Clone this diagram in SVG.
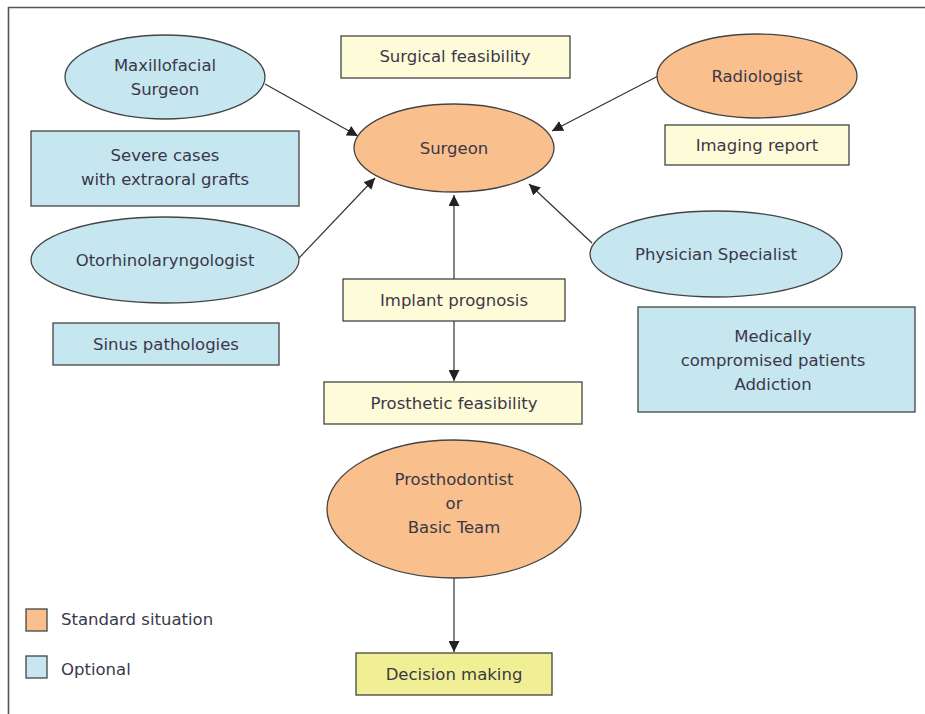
<svg xmlns="http://www.w3.org/2000/svg" width="925" height="714" viewBox="0 0 925 714">
  <defs>
    <marker id="arrow" viewBox="0 0 10 10" refX="10" refY="5" markerWidth="11" markerHeight="11" markerUnits="userSpaceOnUse" orient="auto">
      <path d="M0,0 L10,5 L0,10 z" fill="#222"/>
    </marker>
    <style>
      .std { fill: #F9BF8D; stroke: #444; stroke-width: 1.3; }
      .opt { fill: #C6E6F0; stroke: #444; stroke-width: 1.3; }
      .note { fill: #FDFBD8; stroke: #444; stroke-width: 1.3; }
      .decide { fill: #F1EF93; stroke: #444; stroke-width: 1.3; }
      .lbl { font-family: "DejaVu Sans", "Liberation Sans", sans-serif; font-size: 16.5px; fill: #3a3848; text-anchor: middle; }
      .leg { font-family: "DejaVu Sans", "Liberation Sans", sans-serif; font-size: 16.5px; fill: #3a3848; }
      .edge { stroke: #333; stroke-width: 1.2; fill: none; marker-end: url(#arrow); }
    </style>
  </defs>
  <rect width="925" height="714" fill="#fff"/>
  <!-- frame -->
  <path d="M8.5,714 V7.5 H925" fill="none" stroke="#555" stroke-width="1.6"/>

  <g id="connectors">
    <line class="edge" x1="265" y1="84" x2="358" y2="136"/>
    <line class="edge" x1="660" y1="75" x2="552" y2="131"/>
    <line class="edge" x1="299" y1="258" x2="375" y2="178"/>
    <line class="edge" x1="592" y1="243" x2="529" y2="184"/>
    <line class="edge" x1="454" y1="279" x2="454" y2="195"/>
    <line class="edge" x1="454" y1="321" x2="454" y2="381"/>
    <line class="edge" x1="454" y1="578" x2="454" y2="652"/>
  </g>

  <g id="maxillofacial">
    <ellipse class="opt" cx="165" cy="77" rx="100" ry="42"/>
    <text class="lbl" x="165" y="71">Maxillofacial</text>
    <text class="lbl" x="165" y="95">Surgeon</text>
  </g>
  <g id="surgical-feasibility">
    <rect class="note" x="341" y="36" width="229" height="42"/>
    <text class="lbl" x="455" y="62">Surgical feasibility</text>
  </g>
  <g id="radiologist">
    <ellipse class="std" cx="757" cy="76" rx="100" ry="42"/>
    <text class="lbl" x="757" y="82">Radiologist</text>
  </g>
  <g id="surgeon">
    <ellipse class="std" cx="454" cy="148" rx="100" ry="44"/>
    <text class="lbl" x="454" y="154">Surgeon</text>
  </g>
  <g id="imaging-report">
    <rect class="note" x="665" y="125" width="184" height="40"/>
    <text class="lbl" x="757" y="151">Imaging report</text>
  </g>
  <g id="severe-cases">
    <rect class="opt" x="31" y="131" width="268" height="75"/>
    <text class="lbl" x="165" y="161">Severe cases</text>
    <text class="lbl" x="165" y="185">with extraoral grafts</text>
  </g>
  <g id="otorhinolaryngologist">
    <ellipse class="opt" cx="165" cy="260" rx="134" ry="43"/>
    <text class="lbl" x="165" y="266">Otorhinolaryngologist</text>
  </g>
  <g id="physician-specialist">
    <ellipse class="opt" cx="716" cy="254" rx="126" ry="43"/>
    <text class="lbl" x="716" y="260">Physician Specialist</text>
  </g>
  <g id="implant-prognosis">
    <rect class="note" x="343" y="279" width="222" height="42"/>
    <text class="lbl" x="454" y="306">Implant prognosis</text>
  </g>
  <g id="sinus-pathologies">
    <rect class="opt" x="53" y="323" width="226" height="42"/>
    <text class="lbl" x="166" y="350">Sinus pathologies</text>
  </g>
  <g id="medically-compromised">
    <rect class="opt" x="638" y="307" width="277" height="105"/>
    <text class="lbl" x="773" y="342">Medically</text>
    <text class="lbl" x="773" y="366">compromised patients</text>
    <text class="lbl" x="773" y="390">Addiction</text>
  </g>
  <g id="prosthetic-feasibility">
    <rect class="note" x="324" y="382" width="258" height="42"/>
    <text class="lbl" x="454" y="409">Prosthetic feasibility</text>
  </g>
  <g id="prosthodontist">
    <ellipse class="std" cx="454" cy="509" rx="127" ry="69"/>
    <text class="lbl" x="454" y="485">Prosthodontist</text>
    <text class="lbl" x="454" y="509">or</text>
    <text class="lbl" x="454" y="533">Basic Team</text>
  </g>
  <g id="decision-making">
    <rect class="decide" x="356" y="653" width="196" height="42"/>
    <text class="lbl" x="454" y="680">Decision making</text>
  </g>

  <g id="legend">
    <rect class="std" x="26" y="609" width="21" height="22"/>
    <text class="leg" x="61" y="625">Standard situation</text>
    <rect class="opt" x="26" y="656" width="21" height="22"/>
    <text class="leg" x="61" y="675">Optional</text>
  </g>
</svg>
